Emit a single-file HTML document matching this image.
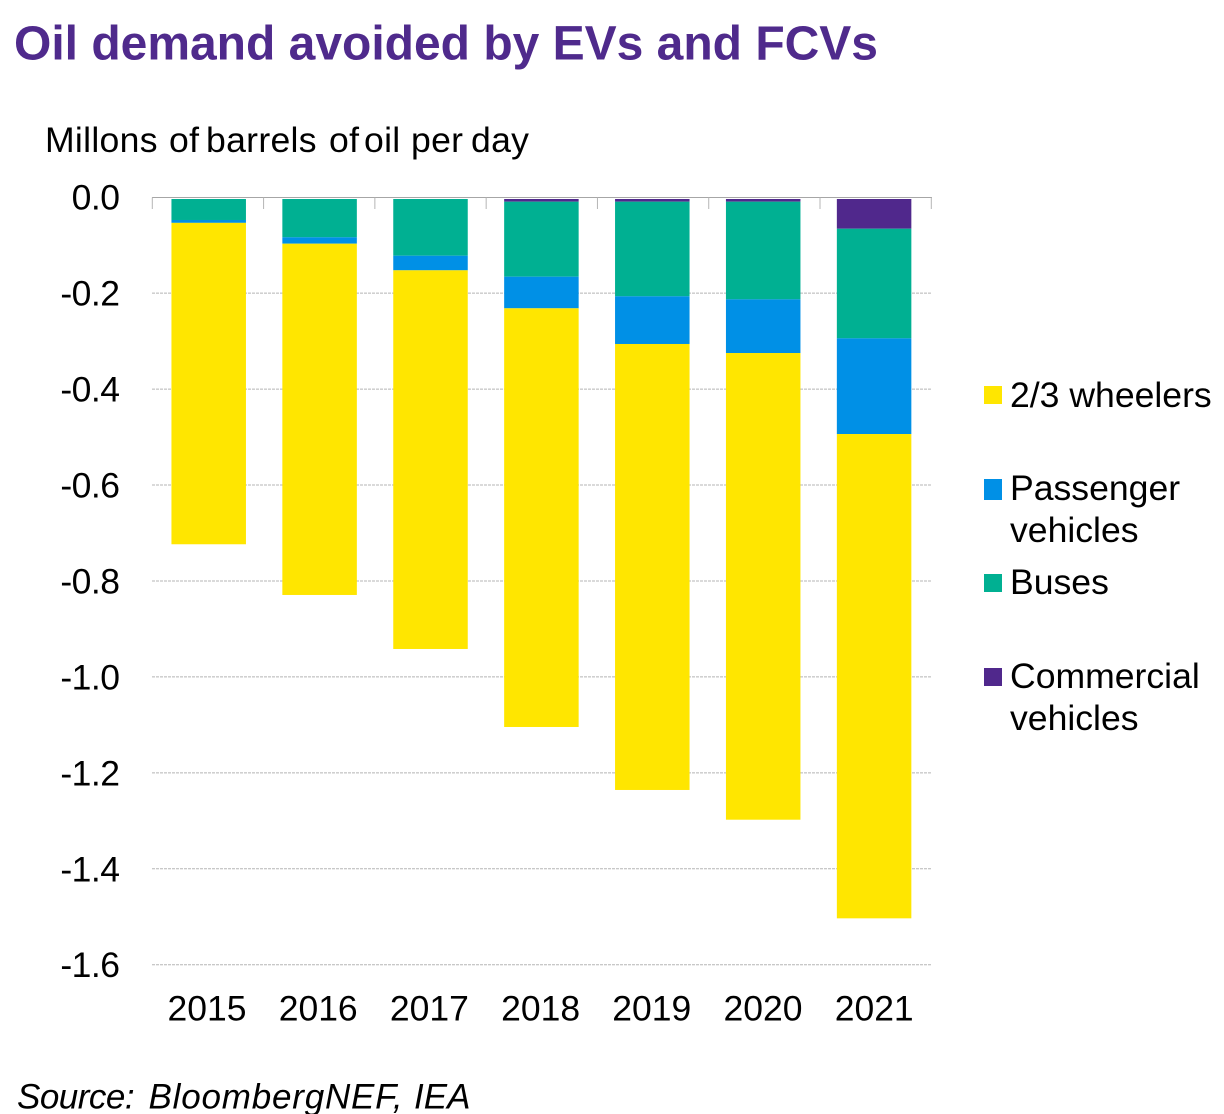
<!DOCTYPE html>
<html lang="en">
<head>
<meta charset="utf-8">
<title>Oil demand avoided by EVs and FCVs</title>
<style>
html,body{margin:0;padding:0;background:#fff;width:1224px;height:1114px;overflow:hidden}
svg{display:block;font-family:"Liberation Sans",Arial,sans-serif}
text{fill:#000}
</style>
</head>
<body>
<svg id="chart" xmlns="http://www.w3.org/2000/svg" width="1224" height="1114" viewBox="0 0 1224 1114">
  <defs><clipPath id="plot-clip"><rect x="140" y="199" width="800" height="900"/></clipPath></defs>
  <text x="14" y="59.5" font-size="48" font-weight="700" style="fill:#4f2a8c" textLength="864" lengthAdjust="spacing">Oil demand avoided by EVs and FCVs</text>
  <text y="152" font-size="35.6" letter-spacing="0.3"><tspan x="45" y="152">Millons</tspan> <tspan x="169" y="152">of</tspan> <tspan x="206" y="152">barrels</tspan> <tspan x="329" y="152">of</tspan> <tspan x="364" y="152">oil</tspan> <tspan x="411" y="152">per</tspan> <tspan x="471" y="152">day</tspan></text>
  <g id="grid"></g>
  <g id="bars" clip-path="url(#plot-clip)"></g>
  <g id="axis"></g>
  <g id="ylabels"></g>
  <g id="xlabels"></g>
  <g font-size="35.6">
    <g>
      <rect x="984" y="386" width="18" height="18" fill="#FFE600"/>
      <text x="1010" y="407">2/3 wheelers</text>
    </g>
    <g>
      <rect x="984" y="479" width="18" height="21" fill="#0090E6"/>
      <text><tspan x="1010" y="500">Passenger</tspan><tspan x="1010" y="542">vehicles</tspan></text>
    </g>
    <g>
      <rect x="984" y="574" width="18" height="18" fill="#00B092"/>
      <text x="1010" y="594">Buses</text>
    </g>
    <g>
      <rect x="984" y="668" width="18" height="18" fill="#50288C"/>
      <text><tspan x="1010" y="688">Commercial</tspan><tspan x="1010" y="730">vehicles</tspan></text>
    </g>
  </g>
  <text y="1108.5" font-size="35" font-style="italic"><tspan x="17" y="1108.5" letter-spacing="-0.5">Source:</tspan> <tspan x="148.5" y="1108.5" letter-spacing="0.8">BloombergNEF,</tspan> <tspan x="414" y="1108.5">IEA</tspan></text>
</svg>
<script>
const categories = ['2015', '2016', '2017', '2018', '2019', '2020', '2021'];
const commercial = [0, 0, 0, -0.0094, -0.0094, -0.0094, -0.0657];
const buses = [-0.0475, -0.0836, -0.122, -0.1563, -0.1972, -0.2035, -0.2285];
const passenger = [-0.006, -0.0133, -0.0304, -0.0659, -0.0994, -0.1119, -0.1995];
const wheelers = [-0.67, -0.7323, -0.7894, -0.8728, -0.9297, -0.9729, -1.0096];
const yTicks = [0, -0.2, -0.4, -0.6, -0.8, -1.0, -1.2, -1.4, -1.6];

const NS = 'http://www.w3.org/2000/svg';
function yScale(v) { return 197.2 + (-v) * 479.7; }
function xCenter(i) { return 208.7 + i * 110.9; }
function xTick(i) { return 152.3 + i * (779 / categories.length); }
const barWidth = 74.5;
const stackOrder = [
  { key: 'commercial', values: commercial, color: '#50288C' },
  { key: 'buses', values: buses, color: '#00B092' },
  { key: 'passenger', values: passenger, color: '#0090E6' },
  { key: 'wheelers', values: wheelers, color: '#FFE600' }
];

const grid = document.getElementById('grid');
const yLabels = document.getElementById('ylabels');
yTicks.forEach(function (t) {
  const y = yScale(t);
  if (t !== 0) {
    const line = document.createElementNS(NS, 'line');
    
    
    line.setAttribute('x1', 152);
    line.setAttribute('x2', 932);
    line.setAttribute('y1', y);
    line.setAttribute('y2', y);
    line.setAttribute('stroke', '#b5b5b5');
    line.setAttribute('stroke-width', '1');
    line.setAttribute('stroke-dasharray', '3 1');
    grid.appendChild(line);
  }
  const label = document.createElementNS(NS, 'text');
  
  
  label.setAttribute('x', 119.5);
  label.setAttribute('y', y + 12.5);
  label.setAttribute('text-anchor', 'end');
  label.setAttribute('font-size', '35.5');
  label.setAttribute('letter-spacing', '-0.5');
  label.textContent = t === 0 ? '0.0' : t.toFixed(1);
  yLabels.appendChild(label);
});

const barsGroup = document.getElementById('bars');
categories.forEach(function (cat, i) {
  let cum = 0;
  stackOrder.forEach(function (s) {
    const v = s.values[i];
    if (v === 0) { return; }
    const top = yScale(cum);
    cum += v;
    const bottom = yScale(cum);
    const r = document.createElementNS(NS, 'rect');
    
    
    r.setAttribute('x', xCenter(i) - barWidth / 2);
    r.setAttribute('y', top);
    r.setAttribute('width', barWidth);
    r.setAttribute('height', bottom - top);
    r.setAttribute('fill', s.color);
    barsGroup.appendChild(r);
  });
});

const axis = document.getElementById('axis');
const axisLine = document.createElementNS(NS, 'line');


axisLine.setAttribute('x1', 152);
axisLine.setAttribute('x2', 932);
axisLine.setAttribute('y1', 197.5);
axisLine.setAttribute('y2', 197.5);
axisLine.setAttribute('stroke', '#a6a6a6');
axisLine.setAttribute('stroke-width', '1');
axis.appendChild(axisLine);
for (let i = 0; i <= categories.length; i++) {
  const tick = document.createElementNS(NS, 'line');
  
  
  tick.setAttribute('x1', xTick(i));
  tick.setAttribute('x2', xTick(i));
  tick.setAttribute('y1', 197.5);
  tick.setAttribute('y2', 209);
  tick.setAttribute('stroke', '#b5b5b5');
  tick.setAttribute('stroke-width', '1');
  axis.appendChild(tick);
}

const xLabels = document.getElementById('xlabels');
categories.forEach(function (cat, i) {
  const t = document.createElementNS(NS, 'text');
  
  
  t.setAttribute('x', 207 + i * 111.2);
  t.setAttribute('y', 1020.5);
  t.setAttribute('text-anchor', 'middle');
  t.setAttribute('font-size', '35.5');
  t.textContent = cat;
  xLabels.appendChild(t);
});
</script>
</body>
</html>
